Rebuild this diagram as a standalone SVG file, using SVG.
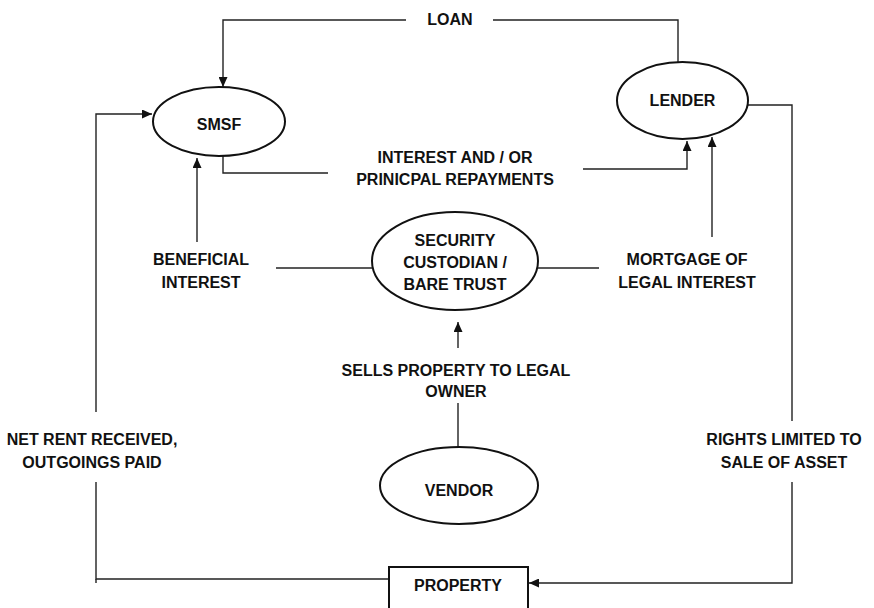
<svg xmlns="http://www.w3.org/2000/svg" width="874" height="608" viewBox="0 0 874 608">
<style>
  .node{fill:#fff;stroke:#111;stroke-width:2}
  .conn{fill:none;stroke:#222;stroke-width:1.4}
  text{font-family:"Liberation Sans",Arial,sans-serif;font-weight:bold;font-size:16px;fill:#111;text-anchor:middle}
</style>
<defs>
  <marker id="arr" markerUnits="userSpaceOnUse" markerWidth="10" markerHeight="9" refX="10" refY="4.5" orient="auto">
    <path d="M0,0 L10,4.5 L0,9 z" fill="#111"/>
  </marker>
</defs>
<rect width="874" height="608" fill="#fff"/>
<g id="connectors">
  <path class="conn" d="M678,62 V20 H493"/>
  <path class="conn" d="M406,20 H223 V87" marker-end="url(#arr)"/>
  <path class="conn" d="M223,156 V173 H328"/>
  <path class="conn" d="M583,169 H687 V141" marker-end="url(#arr)"/>
  <path class="conn" d="M748,105 H792 V421"/>
  <path class="conn" d="M792,482 V583 H529" marker-end="url(#arr)"/>
  <path class="conn" d="M389,579 H96 V482"/>
  <path class="conn" d="M96,583 V579"/>
  <path class="conn" d="M96,412 V114 H152" marker-end="url(#arr)"/>
  <path class="conn" d="M372,268 H276"/>
  <path class="conn" d="M197,242 V158" marker-end="url(#arr)"/>
  <path class="conn" d="M538,268 H599"/>
  <path class="conn" d="M712,237 V137" marker-end="url(#arr)"/>
  <path class="conn" d="M458,447 V403"/>
  <path class="conn" d="M458,348 V322" marker-end="url(#arr)"/>
  <text x="450" y="25">LOAN</text>
  <text x="455" y="163">INTEREST AND / OR</text>
  <text x="455" y="185">PRINICPAL REPAYMENTS</text>
  <text x="201" y="265">BENEFICIAL</text>
  <text x="201" y="288">INTEREST</text>
  <text x="687" y="265">MORTGAGE OF</text>
  <text x="687" y="288">LEGAL INTEREST</text>
  <text x="456" y="376">SELLS PROPERTY TO LEGAL</text>
  <text x="456" y="397">OWNER</text>
  <text x="92" y="445">NET RENT RECEIVED,</text>
  <text x="92" y="468">OUTGOINGS PAID</text>
  <text x="784" y="445">RIGHTS LIMITED TO</text>
  <text x="784" y="468">SALE OF ASSET</text>
</g>
<g id="smsf">
  <ellipse class="node" cx="219" cy="121.5" rx="66" ry="34.5"/>
  <text x="219" y="130">SMSF</text>
</g>
<g id="lender">
  <ellipse class="node" cx="682.5" cy="100.5" rx="65.5" ry="38.5"/>
  <text x="682.5" y="106">LENDER</text>
</g>
<g id="custodian">
  <ellipse class="node" cx="455" cy="261" rx="83" ry="49"/>
  <text x="455" y="246">SECURITY</text>
  <text x="455" y="268">CUSTODIAN /</text>
  <text x="455" y="290">BARE TRUST</text>
</g>
<g id="vendor">
  <ellipse class="node" cx="459" cy="485.5" rx="79" ry="38.5"/>
  <text x="459" y="496">VENDOR</text>
</g>
<g id="property">
  <rect class="node" x="389" y="567" width="139" height="50"/>
  <text x="458" y="591">PROPERTY</text>
</g>
</svg>
